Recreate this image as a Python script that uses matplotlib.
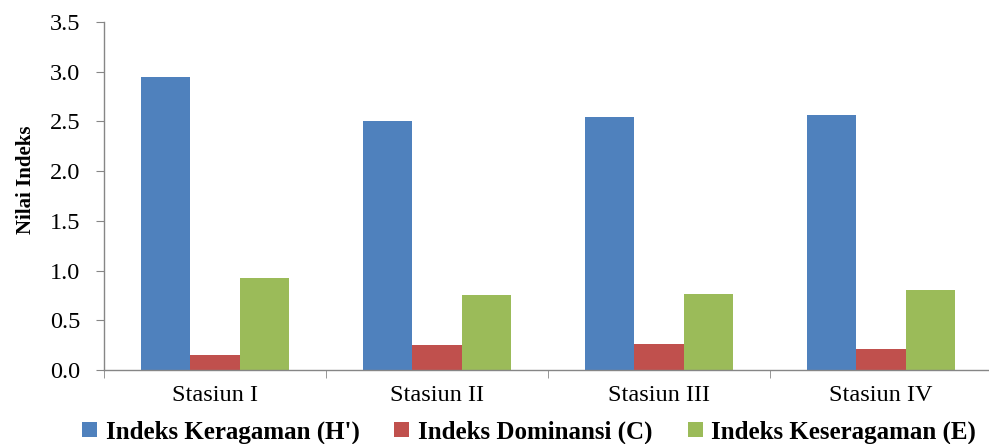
import matplotlib
matplotlib.use("Agg")
import matplotlib.pyplot as plt
import numpy as np

stasiun = ["Stasiun I", "Stasiun II", "Stasiun III", "Stasiun IV"]
keragaman = [2.95, 2.50, 2.54, 2.56]
dominansi = [0.15, 0.25, 0.26, 0.21]
keseragaman = [0.93, 0.75, 0.76, 0.80]
seri = ["Indeks Keragaman (H')", "Indeks Dominansi (C)", "Indeks Keseragaman (E)"]
warna = ["#4F81BD", "#C0504D", "#9BBB59"]

plt.rcParams.update({"font.family": "serif", "font.serif": ["Liberation Serif", "DejaVu Serif"]})

fig = plt.figure(figsize=(9.89, 4.44), dpi=100)
ax = fig.add_axes([104 / 989, 74 / 444, 888 / 989, 348 / 444])

x = np.arange(len(stasiun))
w = 0.222
for i, (vals, lab, c) in enumerate(zip([keragaman, dominansi, keseragaman], seri, warna)):
    ax.bar(x + (i - 1) * w, vals, width=w, color=c, label=lab, linewidth=0)

ax.set_xlim(-0.5, len(stasiun) - 0.5)
ax.set_ylim(0, 3.5)
yt = np.arange(0, 3.51, 0.5)
ax.set_yticks(yt)
ax.set_yticklabels([f"{v:.1f}" for v in yt], fontsize=17.5)
ax.set_xticks(x)
ax.set_xticklabels(stasiun, fontsize=17.5)
ax.tick_params(axis="x", length=0, pad=11)
ax.tick_params(axis="y", length=6, color="#868686", pad=11)
# category separators on the x axis
ax.set_xticks(np.arange(-0.5, len(stasiun)), minor=True)
ax.tick_params(axis="x", which="minor", length=6, color="#868686", direction="out")

for s in ["top", "right"]:
    ax.spines[s].set_visible(False)
for s in ["left", "bottom"]:
    ax.spines[s].set_color("#868686")
    ax.spines[s].set_linewidth(1.0)

ax.set_ylabel("Nilai Indeks", fontsize=15, fontweight="bold")
ax.yaxis.set_label_coords(-0.077, 0.546)

fig.legend(loc="center", bbox_to_anchor=(0.535, 0.027), ncol=3, frameon=False,
           prop={"size": 18, "weight": "bold"}, handlelength=0.6, handleheight=0.6,
           handletextpad=0.35, columnspacing=1.4)

fig.savefig("out.png", dpi=100)
